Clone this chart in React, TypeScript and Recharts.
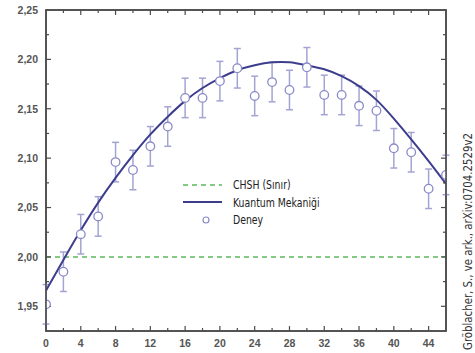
import React from 'react';
import { ComposedChart, Line, Scatter, ErrorBar, XAxis, YAxis, ReferenceLine, ReferenceArea, Legend } from 'recharts';

const angles = [0, 2, 4, 6, 8, 10, 12, 14, 16, 18, 20, 22, 24, 26, 28, 30, 32, 34, 36, 38, 40, 42, 44, 46];
const measuredS = [1.952, 1.985, 2.023, 2.041, 2.096, 2.088, 2.112, 2.132, 2.161, 2.161, 2.178, 2.191, 2.163, 2.177, 2.169, 2.192, 2.164, 2.164, 2.153, 2.148, 2.110, 2.106, 2.069, 2.083];
const errorS = [0.02, 0.02, 0.02, 0.02, 0.02, 0.02, 0.02, 0.02, 0.02, 0.02, 0.02, 0.02, 0.02, 0.02, 0.02, 0.02, 0.02, 0.02, 0.02, 0.02, 0.02, 0.02, 0.02, 0.02];
const quantumS = [1.966, 1.997, 2.027, 2.055, 2.080, 2.103, 2.124, 2.142, 2.158, 2.171, 2.181, 2.189, 2.194, 2.197, 2.197, 2.194, 2.190, 2.183, 2.173, 2.159, 2.140, 2.119, 2.097, 2.074];
const chshBound = 2.0;

const xDomain = [0, 46];
const yDomain = [1.925, 2.25];
const xTicks = [0, 2, 4, 6, 8, 10, 12, 14, 16, 18, 20, 22, 24, 26, 28, 30, 32, 34, 36, 38, 40, 42, 44];
const yTicks = [1.95, 1.975, 2.0, 2.025, 2.05, 2.075, 2.1, 2.125, 2.15, 2.175, 2.2, 2.225, 2.25];

const legendLabels = ['CHSH (Sınır)', 'Kuantum Mekaniği', 'Deney'];
const creditText = 'Gröblacher, S., ve ark., arXiv:0704.2529v2';

const rows = angles.map((a, i) => ({
  angle: a,
  deney: measuredS[i],
  err: errorS[i],
  qm: quantumS[i],
}));

const AXIS = '#4a4a4a';
const LABEL = '#555';
const CURVE = '#3d3d8e';
const POINT = '#8a8ac8';
const ERR = '#a4a4d4';
const GREEN = '#5cb85c';
const NARROW = "'Liberation Sans Narrow', 'DejaVu Sans Condensed', 'Noto Sans', sans-serif";
const LABELFONT = "'Liberation Sans', Arial, sans-serif";

const CHART_W = 475;
const CHART_H = 353;
const MARGIN = { top: 10, right: 29, bottom: 0, left: 0 };
const X_AXIS_H = 22;
const Y_AXIS_W = 46;

// tick mark lengths, expressed in the other axis' data units (≈5px major, ≈3px minor)
const X_TICK_MAJOR = 0.005;
const X_TICK_MINOR = 0.003;
const Y_TICK_MAJOR = 0.58;
const Y_TICK_MINOR = 0.35;

const isMajorX = (v: number) => Math.round(v) % 4 === 0;
const isMajorY = (v: number) => Math.round(v * 1000) % 50 === 0;
const fmtY = (v: number) => v.toFixed(2).replace('.', ',');

const BottomTick = (p: any) => {
  const v = p.payload.value;
  if (!isMajorX(v)) return <g />;
  return (
    <text x={Number(p.x)} y={Number(p.y) + 16} textAnchor="middle" fill={LABEL} fontSize={10.5} fontWeight="bold" fontFamily={LABELFONT}>
      {v}
    </text>
  );
};

const LeftTick = (p: any) => {
  const v = p.payload.value;
  if (!isMajorY(v)) return <g />;
  return (
    <text x={Number(p.x) - 8} y={Number(p.y) + 3.8} textAnchor="end" fill={LABEL} fontSize={10.5} fontWeight="bold" fontFamily={LABELFONT}>
      {fmtY(v)}
    </text>
  );
};

const LegendContent = () => (
  <div style={{ fontFamily: NARROW, fontSize: 12.5, color: '#222' }}>
    {legendLabels.map((label, i) => (
      <div key={label} style={{ display: 'flex', alignItems: 'center', height: 17.5 }}>
        <svg width={40} height={12} style={{ display: 'block' }}>
          {i === 0 && <line x1={0} x2={39} y1={6} y2={6} stroke={GREEN} strokeWidth={1.5} strokeDasharray="5 4" />}
          {i === 1 && <line x1={0} x2={39} y1={6} y2={6} stroke={CURVE} strokeWidth={2} />}
          {i === 2 && <circle cx={23} cy={6} r={3} fill="#fff" stroke={POINT} strokeWidth={1.2} />}
        </svg>
        <span
          style={{
            marginLeft: 10,
            whiteSpace: 'nowrap',
            lineHeight: '17.5px',
            display: 'inline-block',
            transform: 'scaleX(0.83)',
            transformOrigin: 'left center',
          }}
        >
          {label}
        </span>
      </div>
    ))}
  </div>
);

const tickProps = { stroke: AXIS, strokeWidth: 1.2, ifOverflow: 'visible' as const };

export default function App() {
  const plotLeft = MARGIN.left + Y_AXIS_W;
  const plotTop = MARGIN.top;
  const plotW = CHART_W - MARGIN.left - MARGIN.right - Y_AXIS_W;
  const plotH = CHART_H - MARGIN.top - MARGIN.bottom - X_AXIS_H;
  return (
    <div style={{ position: 'absolute', left: 0, top: 0, width: CHART_W, height: CHART_H, background: '#fff' }}>
      <ComposedChart width={CHART_W} height={CHART_H} data={rows} margin={MARGIN}>
        <XAxis
          dataKey="angle"
          type="number"
          domain={xDomain}
          allowDataOverflow
          ticks={xTicks}
          interval={0}
          height={X_AXIS_H}
          tickSize={0}
          tickMargin={0}
          tick={BottomTick}
          tickLine={false}
          axisLine={false}
        />
        <YAxis
          type="number"
          domain={yDomain}
          allowDataOverflow
          ticks={yTicks}
          interval={0}
          width={Y_AXIS_W}
          tickSize={0}
          tickMargin={0}
          tick={LeftTick}
          tickLine={false}
          axisLine={false}
        />
        <ReferenceLine y={chshBound} stroke={GREEN} strokeWidth={1.5} strokeDasharray="5 4" />
        <Scatter
          dataKey="deney"
          isAnimationActive={false}
          shape={(p: any) => <circle cx={p.cx} cy={p.cy} r={4.3} fill="#fff" stroke={POINT} strokeWidth={1.3} />}
        >
          <ErrorBar dataKey="err" direction="y" width={3.5} stroke={ERR} strokeWidth={1.5} isAnimationActive={false} />
        </Scatter>
        <Line
          dataKey="qm"
          type="natural"
          stroke={CURVE}
          strokeWidth={2}
          dot={false}
          activeDot={false}
          isAnimationActive={false}
        />
        <ReferenceArea
          x1={xDomain[0]}
          x2={xDomain[1]}
          y1={yDomain[0]}
          y2={yDomain[1]}
          fill="none"
          fillOpacity={0}
          stroke={AXIS}
          strokeWidth={1.5}
          strokeOpacity={1}
          ifOverflow="visible"
        />
        {xTicks.slice(1).map((t) => {
          const len = isMajorX(t) ? X_TICK_MAJOR : X_TICK_MINOR;
          return (
            <ReferenceLine
              key={`xb${t}`}
              segment={[{ x: t, y: yDomain[0] }, { x: t, y: yDomain[0] + len }]}
              {...tickProps}
            />
          );
        })}
        {xTicks.slice(1).map((t) => {
          const len = isMajorX(t) ? X_TICK_MAJOR : X_TICK_MINOR;
          return (
            <ReferenceLine
              key={`xt${t}`}
              segment={[{ x: t, y: yDomain[1] }, { x: t, y: yDomain[1] - len }]}
              {...tickProps}
            />
          );
        })}
        {yTicks.slice(0, -1).map((t) => {
          const len = isMajorY(t) ? Y_TICK_MAJOR : Y_TICK_MINOR;
          return (
            <ReferenceLine
              key={`yl${t}`}
              segment={[{ x: xDomain[0], y: t }, { x: xDomain[0] + len, y: t }]}
              {...tickProps}
            />
          );
        })}
        {yTicks.slice(0, -1).map((t) => {
          const len = isMajorY(t) ? Y_TICK_MAJOR : Y_TICK_MINOR;
          return (
            <ReferenceLine
              key={`yr${t}`}
              segment={[{ x: xDomain[1], y: t }, { x: xDomain[1] - len, y: t }]}
              {...tickProps}
            />
          );
        })}
        <Legend
          layout="vertical"
          align="center"
          verticalAlign="middle"
          content={LegendContent}
          wrapperStyle={{ left: 183, top: 176, width: 'auto', height: 'auto' }}
        />
      </ComposedChart>
      <svg
        width={CHART_W}
        height={CHART_H}
        style={{ position: 'absolute', left: 0, top: 0, pointerEvents: 'none' }}
      >
        <rect x={plotLeft} y={plotTop} width={plotW} height={plotH} fill="none" stroke={AXIS} strokeWidth={1.5} />
        <text
          transform={`translate(472,350) rotate(-90)`}
          fontFamily={NARROW}
          fontSize={12.5}
          fill="#333"
          textLength={217}
          lengthAdjust="spacingAndGlyphs"
        >
          {creditText}
        </text>
      </svg>
    </div>
  );
}
